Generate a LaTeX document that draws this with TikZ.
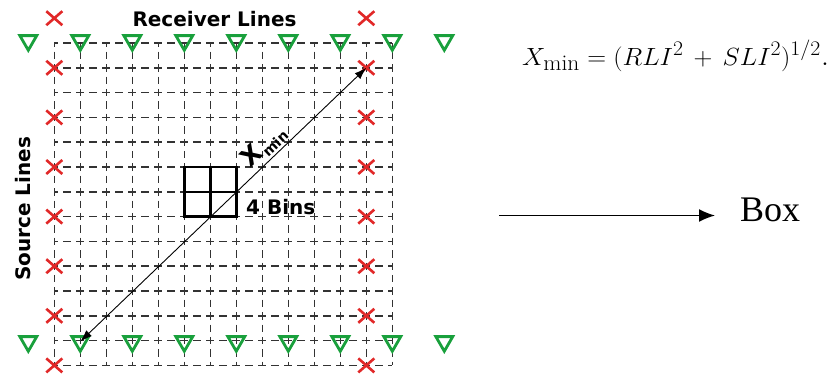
\documentclass[tikz,border=0pt]{standalone}
\usepackage{fontspec}
\newfontfamily\labfont{DejaVu Sans}
\newfontfamily\boxfont{Liberation Serif}
\usetikzlibrary{shapes.misc,shapes.geometric,arrows.meta}
\definecolor{xred}{RGB}{225,40,40}
\definecolor{tgreen}{RGB}{25,160,60}
\begin{document}
\begin{tikzpicture}[x=1pt,y=-1pt,
  srcmark/.style={cross out, draw=xred, line width=2.6pt, minimum width=16pt, minimum height=14pt, inner sep=0pt, outer sep=0pt},
  rcvmark/.style={regular polygon, regular polygon sides=3, regular polygon rotate=180, draw=tgreen, line width=2.8pt, minimum size=19.5pt, inner sep=0pt},
  gridh/.style={line width=1.5pt, black!80, dash pattern=on 8pt off 5pt, dash phase=4pt},
  gridv/.style={line width=1.5pt, black!80, dash pattern=on 7.4pt off 5pt, dash phase=3.7pt},
  lab/.style={font=\labfont\bfseries\fontsize{20}{20}\selectfont, inner sep=0pt}]
\useasboundingbox (0,0) rectangle (835,380);
% grid
\foreach \i in {0,...,13} {
  \draw[gridv] (54.3+26*\i,43) -- (54.3+26*\i,365.4);
  \draw[gridh] (54.3,43+24.8*\i) -- (392.3,43+24.8*\i);
}
% 4 bins
\node[draw, line width=2.4pt, minimum width=52pt, minimum height=49.6pt, inner sep=0pt] (bins) at (210.3,191.8) {};
\draw[line width=2.4pt] (bins.north) -- (bins.south);
\draw[line width=2.4pt] (bins.west) -- (bins.east);
% receivers
\foreach \i [count=\k] in {-1,1,3,5,7,9,11,13,15} {
  \node[rcvmark] (rt\k) at (54.3+26*\i,40.5) {};
  \node[rcvmark] (rb\k) at (54.3+26*\i,341.5) {};
}
% sources
\foreach \j [count=\k] in {-1,1,3,5,7,9,11,13} {
  \node[srcmark] (sl\k) at (54.3,43+24.8*\j) {};
  \node[srcmark] (sr\k) at (366.3,43+24.8*\j) {};
}
% diagonal
\draw[{Latex[length=12pt,width=8pt]}-{Latex[length=12pt,width=8pt]}, line width=0.9pt] (rb2.center) -- (sr2.center);
% labels
\node[lab] (rl) at (214.5,19.5) {Receiver Lines};
\node[lab, rotate=90] (sl) at (23,209) {Source Lines};
\node[lab, anchor=west] (fb) at (246,207.5) {4 Bins};
\node[inner sep=0pt, rotate=43.6, font=\labfont\bfseries] (xm) at (264,146) {{\fontsize{25}{25}\selectfont X}\kern1pt\raisebox{-4pt}{\fontsize{14}{14}\selectfont min}};
% formula
\node[anchor=base west, inner sep=0pt, xscale=1.05] (eq) at (522,65) {\fontsize{32}{32}\selectfont $X_{\mathrm{min}} = (RLI^2 \,+\, SLI^2)^{1/2}$.};
% arrow and Box
\coordinate (a0) at (499,215.5);
\coordinate (a1) at (715,215.5);
\node[anchor=base west, inner sep=0pt, font=\boxfont\fontsize{36}{36}\selectfont] (box) at (740,221) {Box};
\draw[-{Latex[length=16pt,width=13pt]}, line width=1.5pt] (a0) -- (a1);
\end{tikzpicture}
\end{document}
